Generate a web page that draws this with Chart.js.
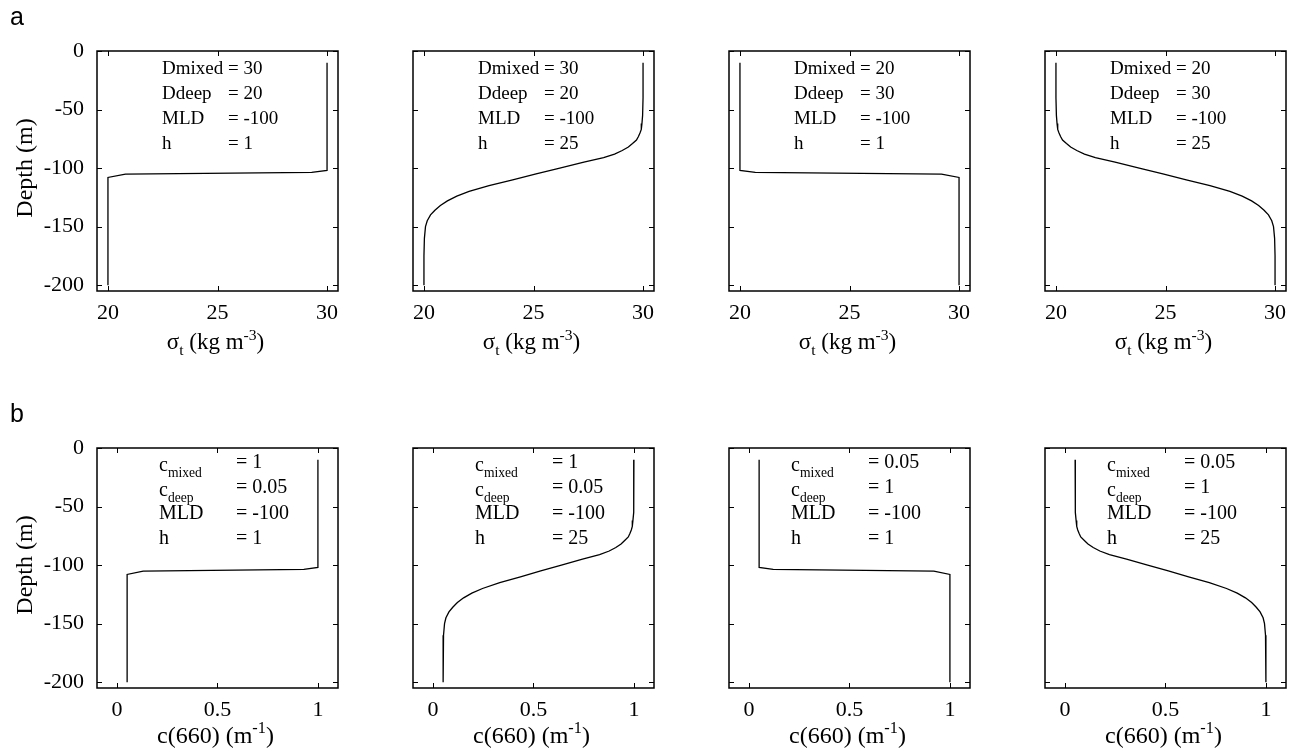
<!DOCTYPE html>
<html><head><meta charset="utf-8">
<script src="https://cdn.jsdelivr.net/npm/chart.js@4"></script>
<style>
html,body{margin:0;padding:0;background:#fff;width:1301px;height:756px;overflow:hidden;position:relative}
.p{position:absolute}
</style></head><body>
<script>
// ---------- data ----------
const depthStep = [-10, -102, -103.7, -105.2, -108, -200];
const sigmaStepA1 = [30, 30, 29.3, 20.8, 20, 20];
const sigmaStepA3 = [20, 20, 20.7, 29.2, 30, 30];
const cStepB1 = [1, 1, 0.93, 0.13, 0.05, 0.05];
const cStepB3 = [0.05, 0.05, 0.12, 0.92, 1, 1];

const depthSmooth = [-10, -40, -55, -62, -67, -70, -73, -76, -79, -82, -85, -88, -91, -95, -100, -105, -110, -115, -120, -124, -128, -132, -136, -140, -145, -150, -160, -175, -200];
const sigmaSmoothA2 = [30, 30, 29.98, 29.95, 29.92, 29.86, 29.79, 29.7, 29.52, 29.33, 29.05, 28.7, 28.2, 27.3, 26.2, 25.12, 24.05, 22.97, 22.06, 21.5, 21.07, 20.75, 20.5, 20.3, 20.15, 20.07, 20.02, 20, 20];
const sigmaSmoothA4 = [20, 20, 20.02, 20.05, 20.08, 20.14, 20.21, 20.3, 20.48, 20.67, 20.95, 21.3, 21.8, 22.7, 23.8, 24.88, 25.95, 27.03, 27.94, 28.5, 28.93, 29.25, 29.5, 29.7, 29.85, 29.93, 29.98, 30, 30];
const cSmoothB2 = [1, 1, 0.998, 0.995, 0.992, 0.987, 0.98, 0.972, 0.954, 0.936, 0.91, 0.877, 0.829, 0.744, 0.639, 0.536, 0.435, 0.332, 0.246, 0.193, 0.152, 0.121, 0.098, 0.079, 0.064, 0.057, 0.052, 0.05, 0.05];
const cSmoothB4 = [0.05, 0.05, 0.052, 0.055, 0.058, 0.063, 0.07, 0.078, 0.096, 0.114, 0.14, 0.173, 0.221, 0.306, 0.411, 0.514, 0.615, 0.718, 0.804, 0.857, 0.898, 0.929, 0.952, 0.971, 0.986, 0.993, 0.998, 1, 1];

const depthTicks = [0, -50, -100, -150, -200];
const sigmaTicks = [20, 25, 30];
const cTicks = [0, 0.5, 1];

const paramNamesA = ['Dmixed', 'Ddeep', 'MLD', 'h'];
const paramNamesB = [['c', 'mixed'], ['c', 'deep'], ['MLD', ''], ['h', '']];
const paramValsA1 = ['30', '20', '-100', '1'];
const paramValsA2 = ['30', '20', '-100', '25'];
const paramValsA3 = ['20', '30', '-100', '1'];
const paramValsA4 = ['20', '30', '-100', '25'];
const paramValsB1 = ['1', '0.05', '-100', '1'];
const paramValsB2 = ['1', '0.05', '-100', '25'];
const paramValsB3 = ['0.05', '1', '-100', '1'];
const paramValsB4 = ['0.05', '1', '-100', '25'];

// ---------- layout ----------
const colLeft = [97, 413, 729, 1045];
const rowTop = [51, 448];
const BOX_W = 241, BOX_H = 240;
const ML = 97, MT = 51, MR = 15, MB = 66;
const SERIF = '"Liberation Serif", "Times New Roman", serif';

function drawRich(ctx, x, y, segs, size, align) {
  let total = 0;
  const parts = segs.map(s => {
    const fs = s.s ? size * 0.68 : size;
    ctx.font = fs + 'px ' + SERIF;
    const w = ctx.measureText(s.t).width;
    total += w;
    return { s, fs, w };
  });
  let cx = align === 'center' ? x - total / 2 : x;
  ctx.textAlign = 'left';
  ctx.textBaseline = 'alphabetic';
  parts.forEach(p => {
    ctx.font = p.fs + 'px ' + SERIF;
    const dy = p.s.s === 'sub' ? size * 0.28 : (p.s.s === 'sup' ? -size * 0.4 : 0);
    ctx.fillText(p.s.t, cx, y + dy);
    cx += p.w;
  });
}

const framePlugin = {
  id: 'frame',
  afterDraw(chart) {
    const o = chart.options.plugins.frame;
    const ctx = chart.ctx;
    const a = chart.chartArea;
    const xs = chart.scales.x, ys = chart.scales.y;
    ctx.save();
    ctx.strokeStyle = '#000';
    ctx.fillStyle = '#000';
    ctx.lineWidth = 1.5;
    ctx.strokeRect(a.left, a.top, a.right - a.left, a.bottom - a.top);
    ctx.lineWidth = 1;
    const TL = 5;
    ctx.beginPath();
    xs.ticks.forEach(t => {
      const px = Math.round(xs.getPixelForValue(t.value)) + 0.5;
      ctx.moveTo(px, a.bottom); ctx.lineTo(px, a.bottom - TL);
      ctx.moveTo(px, a.top); ctx.lineTo(px, a.top + TL);
    });
    ys.ticks.forEach(t => {
      const py = Math.round(ys.getPixelForValue(t.value)) + 0.5;
      ctx.moveTo(a.left, py); ctx.lineTo(a.left + TL, py);
      ctx.moveTo(a.right, py); ctx.lineTo(a.right - TL, py);
    });
    ctx.stroke();

    // parameter annotation
    const isB = o.row === 1;
    for (let i = 0; i < 4; i++) {
      if (!isB) {
        const yb = a.top + 23 + 25 * i;
        ctx.font = '19px ' + SERIF;
        ctx.textAlign = 'left'; ctx.textBaseline = 'alphabetic';
        ctx.fillText(o.names[i], a.left + 65, yb);
        ctx.fillText('= ' + o.vals[i], a.left + 131, yb);
      } else {
        const yb = a.top + 20 + 25.3 * i;
        const nm = o.names[i];
        const segs = [{ t: nm[0] }];
        if (nm[1]) segs.push({ t: nm[1], s: 'sub' });
        drawRich(ctx, a.left + 62, yb + (nm[1] ? 3 : 0), segs, 20, 'left');
        ctx.font = '20px ' + SERIF;
        ctx.textAlign = 'left'; ctx.textBaseline = 'alphabetic';
        ctx.fillText('= ' + o.vals[i], a.left + 139, yb);
      }
    }

    // x title
    const cxm = (a.left + a.right) / 2;
    if (!isB) {
      drawRich(ctx, cxm - 2, a.bottom + 58, [{ t: 'σ' }, { t: 't', s: 'sub' }, { t: ' (kg m' }, { t: '-3', s: 'sup' }, { t: ')' }], 23, 'center');
    } else {
      drawRich(ctx, cxm - 2, a.bottom + 55, [{ t: 'c(660) (m' }, { t: '-1', s: 'sup' }, { t: ')' }], 24, 'center');
    }
    // y title + panel letter
    if (o.col === 0) {
      ctx.save();
      ctx.translate(32, (a.top + a.bottom) / 2 - 3);
      ctx.rotate(-Math.PI / 2);
      drawRich(ctx, 0, 0, [{ t: 'Depth (m)' }], 24, 'center');
      ctx.restore();
      ctx.font = '25px "Liberation Sans", "Noto Sans", sans-serif';
      ctx.textAlign = 'left'; ctx.textBaseline = 'alphabetic';
      ctx.fillText(isB ? 'b' : 'a', 10, a.top - 26);
    }
    ctx.restore();
  }
};

function makePanel(row, col, xVals, yVals, xMin, xMax, xTicks, names, vals) {
  const div = document.createElement('div');
  div.className = 'p';
  const w = ML + BOX_W + MR, h = MT + BOX_H + MB;
  div.style.left = (colLeft[col] - ML) + 'px';
  div.style.top = (rowTop[row] - MT) + 'px';
  div.style.width = w + 'px';
  div.style.height = h + 'px';
  const cv = document.createElement('canvas');
  div.appendChild(cv);
  document.body.appendChild(div);
  const pts = xVals.map((v, i) => ({ x: v, y: yVals[i] }));
  new Chart(cv, {
    type: 'scatter',
    data: { datasets: [{ data: pts, showLine: true, borderColor: '#000', borderWidth: 1.3, pointRadius: 0, pointHoverRadius: 0, tension: 0, fill: false }] },
    options: {
      responsive: true, maintainAspectRatio: false, animation: false,
      devicePixelRatio: 1,
      events: [],
      layout: { padding: { left: 0, top: MT, right: MR, bottom: 0 } },
      plugins: { legend: { display: false }, tooltip: { enabled: false }, frame: { row, col, names, vals } },
      scales: {
        x: {
          type: 'linear', min: xMin, max: xMax,
          afterBuildTicks: s => { s.ticks = xTicks.map(v => ({ value: v })); },
          afterFit: s => { s.height = MB; },
          grid: { display: false, drawTicks: false }, border: { display: false },
          ticks: { color: '#000', font: { family: SERIF, size: 22 }, padding: 9, maxRotation: 0, autoSkip: false, callback: v => String(v) }
        },
        y: {
          type: 'linear', min: -205, max: 0,
          afterBuildTicks: s => { s.ticks = depthTicks.map(v => ({ value: v })); },
          afterFit: s => { s.width = ML; },
          grid: { display: false, drawTicks: false }, border: { display: false },
          ticks: { display: col === 0, color: '#000', font: { family: SERIF, size: 22 }, padding: 13, autoSkip: false, callback: v => String(v) }
        }
      }
    },
    plugins: [framePlugin]
  });
}

makePanel(0, 0, sigmaStepA1, depthStep, 19.5, 30.5, sigmaTicks, paramNamesA, paramValsA1);
makePanel(0, 1, sigmaSmoothA2, depthSmooth, 19.5, 30.5, sigmaTicks, paramNamesA, paramValsA2);
makePanel(0, 2, sigmaStepA3, depthStep, 19.5, 30.5, sigmaTicks, paramNamesA, paramValsA3);
makePanel(0, 3, sigmaSmoothA4, depthSmooth, 19.5, 30.5, sigmaTicks, paramNamesA, paramValsA4);
makePanel(1, 0, cStepB1, depthStep, -0.1, 1.1, cTicks, paramNamesB, paramValsB1);
makePanel(1, 1, cSmoothB2, depthSmooth, -0.1, 1.1, cTicks, paramNamesB, paramValsB2);
makePanel(1, 2, cStepB3, depthStep, -0.1, 1.1, cTicks, paramNamesB, paramValsB3);
makePanel(1, 3, cSmoothB4, depthSmooth, -0.1, 1.1, cTicks, paramNamesB, paramValsB4);
</script>
</body></html>
